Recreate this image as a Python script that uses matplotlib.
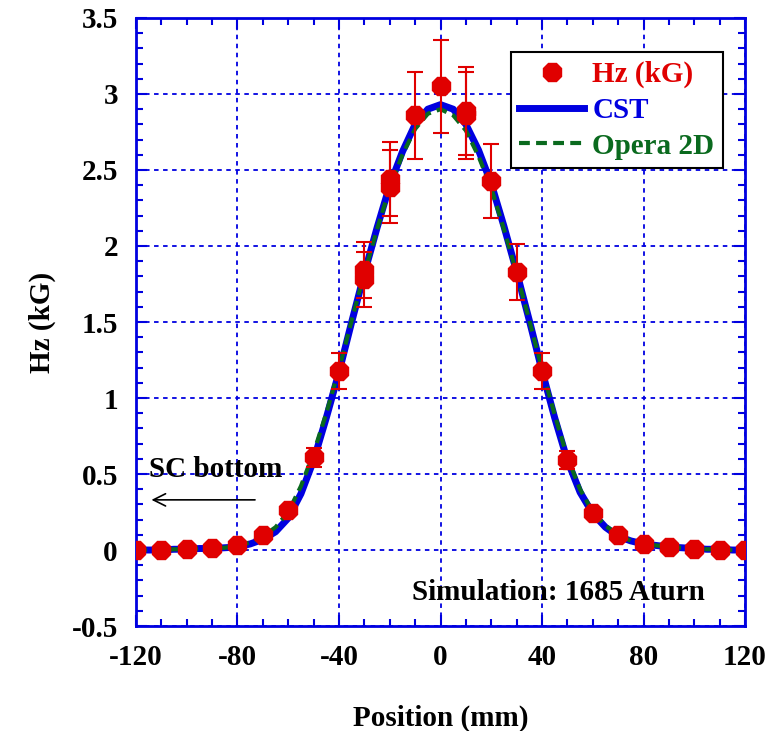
import matplotlib
matplotlib.use("Agg")
import matplotlib.pyplot as plt
from matplotlib.lines import Line2D
from matplotlib.ticker import MultipleLocator, FuncFormatter

plt.rcParams['font.family'] = ['Liberation Serif', 'DejaVu Serif']
plt.rcParams['font.weight'] = 'bold'
plt.rcParams['axes.unicode_minus'] = False

# measured Hz along the bore (two passes overlap at a few positions)
pos_meas = [-120, -110, -100, -90, -80, -70, -60, -50, -40, -30, -30, -20, -20,
            -10, 0, 10, 10, 20, 30, 40, 50, 60, 70, 80, 90, 100, 110, 120]
hz_meas = [0.0, 0.0, 0.005, 0.015, 0.035, 0.10, 0.26, 0.61, 1.18, 1.84, 1.78,
           2.44, 2.39, 2.86, 3.05, 2.89, 2.86, 2.43, 1.83, 1.18, 0.59, 0.245,
           0.10, 0.04, 0.02, 0.01, 0.0, 0.0]
hz_err = [0.0, 0.0, 0.0005, 0.0015, 0.0035, 0.01, 0.026, 0.061, 0.118, 0.184,
          0.178, 0.244, 0.239, 0.286, 0.305, 0.289, 0.286, 0.243, 0.183, 0.118,
          0.059, 0.0245, 0.01, 0.004, 0.002, 0.001, 0.0, 0.0]

# simulated profiles, 5 mm step
pos_sim = list(range(-120, 125, 5))
hz_cst = [0.0, 0.0, 0.0, 0.005, 0.005, 0.01, 0.01, 0.015, 0.02, 0.04, 0.07,
          0.12, 0.21, 0.37, 0.59, 0.87, 1.17, 1.50, 1.82, 2.12, 2.40, 2.62,
          2.80, 2.90, 2.93, 2.90, 2.80, 2.63, 2.41, 2.13, 1.83, 1.51, 1.18,
          0.87, 0.59, 0.38, 0.24, 0.15, 0.09, 0.06, 0.04, 0.03, 0.02, 0.015,
          0.01, 0.005, 0.005, 0.0, 0.0]
hz_opera = [0.0, 0.0, 0.0, 0.005, 0.005, 0.01, 0.01, 0.015, 0.03, 0.05, 0.09,
            0.15, 0.25, 0.42, 0.64, 0.90, 1.19, 1.51, 1.82, 2.11, 2.38, 2.60,
            2.77, 2.87, 2.90, 2.86, 2.76, 2.59, 2.38, 2.11, 1.82, 1.51, 1.19,
            0.89, 0.61, 0.40, 0.25, 0.16, 0.10, 0.06, 0.04, 0.03, 0.02, 0.015,
            0.01, 0.005, 0.005, 0.0, 0.0]

red = '#E00000'
blue = '#0000E0'
green = '#0A6A1E'

fig = plt.figure(figsize=(7.78, 7.31), dpi=100)
ax = fig.add_axes([0.1748, 0.1436, 0.7828, 0.8318])

ax.plot(pos_sim, hz_cst, color=blue, lw=5, zorder=3)
ax.plot(pos_sim, hz_opera, color=green, lw=3, dashes=(2.6, 1.5), zorder=4)
ax.errorbar(pos_meas, hz_meas, yerr=hz_err, fmt='8', ms=14, color=red,
            ecolor=red, elinewidth=1.5, capsize=6, capthick=1.5, zorder=5)

ax.set_xlim(-120, 120)
ax.set_ylim(-0.5, 3.5)
ax.xaxis.set_major_locator(MultipleLocator(40))
ax.xaxis.set_minor_locator(MultipleLocator(10))
ax.yaxis.set_major_locator(MultipleLocator(0.5))
ax.yaxis.set_minor_locator(MultipleLocator(0.1))
ax.yaxis.set_major_formatter(FuncFormatter(lambda v, p: '%g' % v))
ax.xaxis.set_major_formatter(FuncFormatter(lambda v, p: '%g' % v))

ax.tick_params(which='both', direction='in', top=True, right=True,
               color=blue, width=1.5, labelsize=21)
ax.tick_params(which='major', length=8, pad=13)
ax.tick_params(which='minor', length=5)
for s in ax.spines.values():
    s.set_color(blue)
    s.set_linewidth(2)
ax.grid(True, which='major', color=blue, lw=1.3, ls=(0, (2.5, 2.5)))

ax.set_xlabel('Position (mm)', fontsize=21, fontweight='bold', labelpad=24)
ax.set_ylabel('Hz (kG)', fontsize=21, fontweight='bold', labelpad=11)

# legend: marker-only entry for the measurement
handles = [
    Line2D([], [], ls='none', marker='8', ms=14, color=red),
    Line2D([], [], color=blue, lw=5),
    Line2D([], [], color=green, lw=3, dashes=(2.6, 1.5)),
]
labels = ['Hz (kG)', 'CST', 'Opera 2D']
leg = ax.legend(handles, labels, loc='upper right',
                bbox_to_anchor=(0.964, 0.944), fontsize=21, frameon=True,
                fancybox=False, framealpha=1, edgecolor='black',
                borderaxespad=0, handlelength=2.2, handletextpad=0.3,
                borderpad=0.3, labelspacing=0.3)
leg.get_frame().set_linewidth(1.5)
for txt, c in zip(leg.get_texts(), [red, blue, green]):
    txt.set_color(c)

ax.annotate('', xy=(-115, 0.33), xytext=(-72, 0.33),
            arrowprops=dict(arrowstyle='->', color='black', lw=1.2,
                            mutation_scale=22))
ax.text(-115, 0.53, 'SC bottom', fontsize=21, fontweight='bold',
        va='center', ha='left')
ax.text(46.5, -0.28, 'Simulation: 1685 Aturn', fontsize=21,
        fontweight='bold', va='center', ha='center')

fig.savefig('out.png', dpi=100)
